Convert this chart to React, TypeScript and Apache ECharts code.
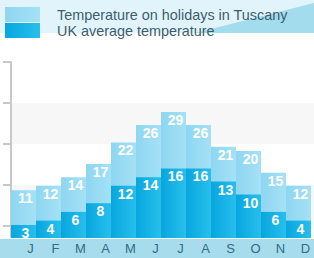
import React, { useEffect, useRef } from "react";
import * as echarts from "echarts";

const months = ["J", "F", "M", "A", "M", "J", "J", "A", "S", "O", "N", "D"];
const tuscany = [11, 12, 14, 17, 22, 26, 29, 26, 21, 20, 15, 12];
const uk = [3, 4, 6, 8, 12, 14, 16, 16, 13, 10, 6, 4];
const seriesNames = ["Temperature on holidays in Tuscany", "UK average temperature"];

const FONT = "'Liberation Sans', Arial, sans-serif";

export default function App() {
  const ref = useRef<HTMLDivElement>(null);
  useEffect(() => {
    if (!ref.current) return;
    const chart = echarts.init(ref.current, null, { renderer: "svg" });
    const lightGrad = new echarts.graphic.LinearGradient(0, 0, 1, 0, [
      { offset: 0, color: "#8ed6f1" },
      { offset: 1, color: "#a4e1f6" },
    ]);
    const darkGrad = new echarts.graphic.LinearGradient(0, 0, 1, 0, [
      { offset: 0, color: "#08a6df" },
      { offset: 1, color: "#27bfec" },
    ]);
    const label = {
      show: true,
      position: "insideTop",
      distance: 1,
      offset: [2, 0],
      color: "#ffffff",
      fontSize: 14,
      fontWeight: "bold",
      fontFamily: FONT,
    };
    chart.setOption({
      animation: false,
      graphic: [
        { type: "rect", z: -10, shape: { x: 0, y: 0, width: 314, height: 33 }, style: { fill: "#e2f4fb" } },
        { type: "polygon", z: -9, shape: { points: [[195, 33], [314, 3], [314, 33]] }, style: { fill: "#a3dcec" } },
        { type: "rect", z: -10, shape: { x: 0, y: 239, width: 314, height: 19 }, style: { fill: "#a6dcec" } },
      ],
      legend: {
        orient: "vertical",
        left: 0,
        top: 2,
        itemWidth: 35,
        itemHeight: 15,
        itemGap: 1,
        icon: "rect",
        selectedMode: false,
        data: seriesNames,
        textStyle: {
          color: "#3d5e6e",
          fontSize: 14.4,
          fontFamily: FONT,
          padding: [2, 0, 0, 12],
        },
      },
      grid: [
        { left: 11, right: 3, top: 62, bottom: 20 },
        { left: 11, right: 0, top: 62, height: 164 },
      ],
      xAxis: [
        {
          type: "category",
          gridIndex: 0,
          data: months,
          axisLine: { show: true, lineStyle: { color: "#ffffff", width: 2 } },
          axisTick: { show: false },
          axisLabel: {
            color: "#336d85",
            fontSize: 13,
            fontFamily: FONT,
            margin: 4,
            padding: [0, 0, 0, 14],
          },
        },
        { type: "value", gridIndex: 1, show: false, min: 0, max: 1 },
      ],
      yAxis: [
        {
          type: "value",
          gridIndex: 0,
          min: 0,
          max: 40.5,
          axisLine: { show: true, lineStyle: { color: "#c8c8c8", width: 2 } },
          axisTick: { show: false },
          axisLabel: { show: false },
          splitLine: { show: false },
        },
        {
          type: "value",
          gridIndex: 1,
          min: 0,
          max: 4,
          interval: 1,
          axisLine: { show: false },
          axisTick: { show: true, length: 8, lineStyle: { color: "#c8c8c8", width: 2 } },
          axisLabel: { show: false },
          splitLine: { show: false },
          splitArea: { show: true, areaStyle: { color: ["#f7f7f7", "rgba(255,255,255,0)"] } },
        },
      ],
      series: [
        {
          name: seriesNames[0],
          type: "bar",
          data: tuscany,
          barWidth: "100%",
          barGap: "-100%",
          itemStyle: { color: lightGrad },
          label,
        },
        {
          name: seriesNames[1],
          type: "bar",
          data: uk,
          barWidth: "100%",
          barGap: "-100%",
          itemStyle: { color: darkGrad },
          label,
        },
      ],
    });
    return () => chart.dispose();
  }, []);
  return (
    <div
      ref={ref}
      style={{ position: "absolute", left: 0, top: 0, width: 314, height: 258 }}
    />
  );
}
